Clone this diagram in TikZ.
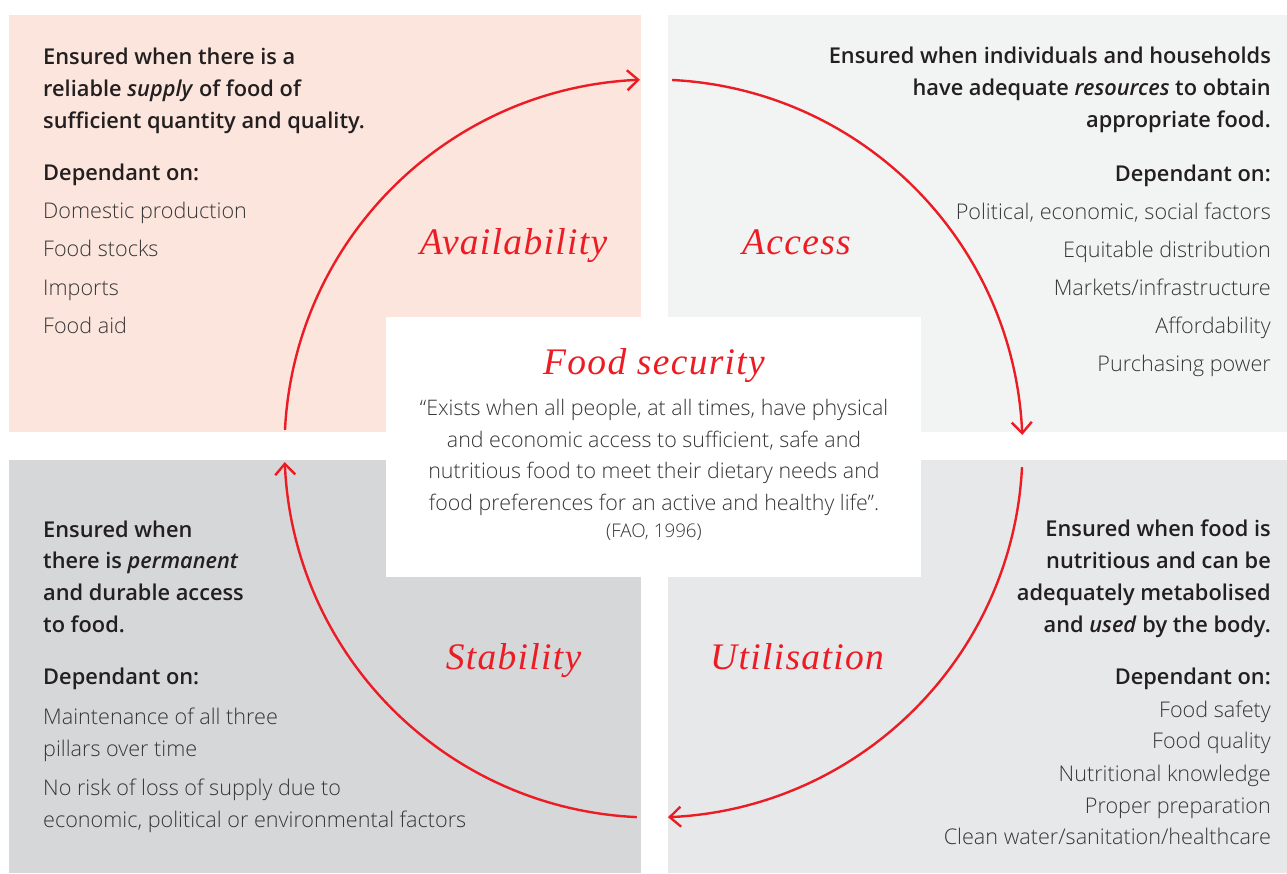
\documentclass[tikz,border=0pt]{standalone}
\usepackage{fontspec}
\setmainfont{Open Sans}
\newfontfamily\semib{Open Sans Semibold}
\newfontfamily\lightf{Open Sans Light}
\newfontfamily\serifit{Liberation Serif}[LetterSpace=3.5]
\usetikzlibrary{arrows.meta,bending}
\definecolor{pinkbg}{HTML}{FCE5DC}
\definecolor{trbg}{HTML}{F2F4F3}
\definecolor{blbg}{HTML}{D6D7D9}
\definecolor{brbg}{HTML}{E7E8EA}
\definecolor{fsred}{HTML}{EC1C24}
\definecolor{txt}{HTML}{231F20}
\definecolor{ltxt}{HTML}{363636}
\begin{document}
\begin{tikzpicture}[x=1pt,y=-1pt,
  hd/.style={font=\semib\fontsize{21.8}{32}\selectfont, text=txt, inner sep=0pt},
  li/.style={font=\lightf\fontsize{21.6}{32}\selectfont, text=ltxt, inner sep=0pt},
  qt/.style={font=\lightf\fontsize{21.4}{32}\selectfont, text=ltxt, inner sep=0pt, anchor=base},
  ttl/.style={font=\serifit\itshape\fontsize{37.5}{40}\selectfont, text=fsred, inner sep=0pt, anchor=base},
  cyc/.style={draw=fsred, line width=2.4pt, -{Straight Barb[length=11pt,width=20pt]}},
  W/.style={anchor=base west},
  E/.style={anchor=base east}
]
\useasboundingbox (0,0) rectangle (1287,873);
\fill[white] (0,0) rectangle (1287,873);
% quadrants
\fill[pinkbg] (9,15) rectangle (641,432);
\fill[trbg] (668,15) rectangle (1287,432);
\fill[blbg] (9,460) rectangle (641,873);
\fill[brbg] (668,460) rectangle (1287,873);
\node[fill=white, minimum width=535pt, minimum height=260pt, inner sep=0pt, anchor=north west] (core) at (386,317) {};

% cycle arcs
\coordinate (c) at (653.5,448.5);
\draw[cyc] (c) ++(-177.1:369) arc[start angle=-177.1, end angle=-92.1, radius=369];
\draw[cyc] (c) ++(-87.1:369) arc[start angle=-87.1, end angle=-2.1, radius=369];
\draw[cyc] (c) ++(2.9:369) arc[start angle=2.9, end angle=87.75, radius=369];
\draw[cyc] (c) ++(92.6:369) arc[start angle=92.6, end angle=177.9, radius=369];

% titles
\node[ttl] (tAv) at (513.5,254) {Availability};
\node[ttl] (tAc) at (796.5,254) {Access};
\node[ttl] (tSt) at (513.5,669) {Stability};
\node[ttl] (tUt) at (797,669) {Utilisation};
\node[ttl] (tFs) at (654,374) {Food security};

% centre quote
\node[qt] (q1) at (654,415) {“Exists when all people, at all times, have physical};
\node[qt] (q2) at (654,447) {and economic access to sufficient, safe and};
\node[qt] (q3) at (654,478) {nutritious food to meet their dietary needs and};
\node[qt] (q4) at (654,510) {food preferences for an active and healthy life”.};
\node[qt, font=\lightf\fontsize{18.8}{20}\selectfont] (q5) at (654,537) {(FAO, 1996)};

% top left
\node[hd,W] (a1) at (43,64) {Ensured when there is a};
\node[hd,W] (a2) at (43,96) {reliable \textit{supply} of food of};
\node[hd,W] (a3) at (43,128) {sufficient quantity and quality.};
\node[hd,W] (a4) at (43,180) {Dependant on:};
\node[li,W] (a5) at (43,218) {Domestic production};
\node[li,W] (a6) at (43,256) {Food stocks};
\node[li,W] (a7) at (43,295) {Imports};
\node[li,W] (a8) at (43,333) {Food aid};

% top right
\node[hd,E] (b1) at (1271,63) {Ensured when individuals and households};
\node[hd,E] (b2) at (1271,95) {have adequate \textit{resources} to obtain};
\node[hd,E] (b3) at (1271,127) {appropriate food.};
\node[hd,E] (b4) at (1271,181) {Dependant on:};
\node[li,E] (b5) at (1271,219) {Political, economic, social factors};
\node[li,E] (b6) at (1271,257) {Equitable distribution};
\node[li,E] (b7) at (1271,295) {Markets/infrastructure};
\node[li,E] (b8) at (1271,333) {Affordability};
\node[li,E] (b9) at (1271,371) {Purchasing power};

% bottom left
\node[hd,W] (s1) at (43,537) {Ensured when};
\node[hd,W] (s2) at (43,568) {there is \textit{permanent}};
\node[hd,W] (s3) at (43,600) {and durable access};
\node[hd,W] (s4) at (43,632) {to food.};
\node[hd,W] (s5) at (43,684) {Dependant on:};
\node[li,W] (s6) at (43,724) {Maintenance of all three};
\node[li,W] (s7) at (43,756) {pillars over time};
\node[li,W] (s8) at (43,795) {No risk of loss of supply due to};
\node[li,W] (s9) at (43,827) {economic, political or environmental factors};

% bottom right
\node[hd,E] (u1) at (1271,536) {Ensured when food is};
\node[hd,E] (u2) at (1271,568) {nutritious and can be};
\node[hd,E] (u3) at (1271,600) {adequately metabolised};
\node[hd,E] (u4) at (1271,632) {and \textit{used} by the body.};
\node[hd,E] (u5) at (1271,684) {Dependant on:};
\node[li,E] (u6) at (1271,717) {Food safety};
\node[li,E] (u7) at (1271,748) {Food quality};
\node[li,E] (u8) at (1271,781) {Nutritional knowledge};
\node[li,E] (u9) at (1271,813) {Proper preparation};
\node[li,E] (u10) at (1271,844) {Clean water/sanitation/healthcare};
\end{tikzpicture}
\end{document}
